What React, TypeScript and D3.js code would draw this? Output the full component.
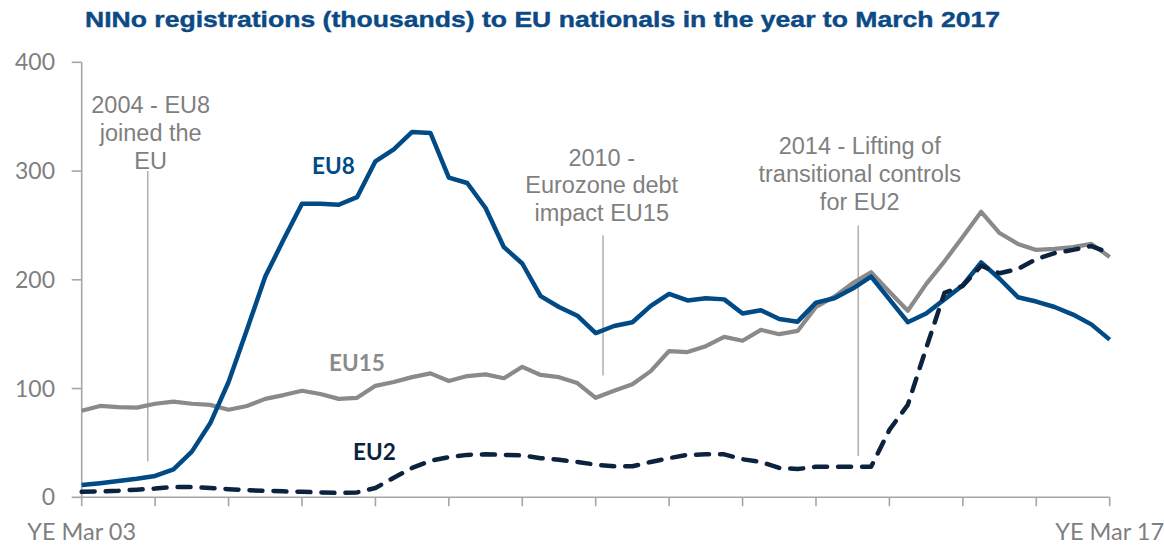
import React from "react";
import * as d3 from "d3";

const eu8: number[] = [
  11.3, 13, 15, 17, 19.6, 25.7, 42, 68, 106, 154, 203, 237, 270, 270, 269, 276,
  309, 320, 336, 335, 294, 289, 266, 230, 215, 185, 175, 167, 151, 157.5, 161,
  176, 187, 181, 183, 182, 169, 172, 164, 161.5, 179, 183, 192, 203, 182, 161,
  169, 182, 195, 216, 201, 184, 180, 175, 168, 159, 145,
];
const eu15: number[] = [
  79.5, 84, 83, 82.5, 86, 88, 86, 85, 80.5, 84, 90.5, 94, 98, 95, 90.5, 91.5,
  102.5, 106, 110.5, 114, 107, 111.5, 113, 109.5, 120, 112.5, 110.5, 105, 91.5,
  98, 104, 116, 134.5, 133.5, 139, 147.5, 144, 154, 150, 153, 175, 184.5, 197,
  207, 189, 171.5, 196, 217, 239.5, 262.5, 243, 233, 227.5, 228.5, 230, 233, 221,
];
const eu2: number[] = [
  5, 5.5, 6, 7, 8, 9.5, 9.5, 8.5, 7.5, 6.5, 6, 5.5, 5, 4.5, 4, 4.5, 8.5, 18, 27,
  33.5, 37, 39, 39.5, 39, 38.5, 36, 34.5, 32.5, 30, 28.5, 28.5, 32.5, 36, 39,
  39.5, 39.5, 35, 32.5, 27, 26, 28, 28, 28, 28, 62, 85, 137, 188, 194.5, 213,
  206, 210, 219, 224.5, 227.5, 231, 224.5,
];
const yTicks: number[] = [0, 100, 200, 300, 400];
const yearTicks: number[] = [0, 1, 2, 3, 4, 5, 6, 7, 8, 9, 10, 11, 12, 13, 14];
const xEndLabels: { year: number; label: string }[] = [
  { year: 0, label: "YE Mar 03" },
  { year: 14, label: "YE Mar 17" },
];
const annotations: { quarter: number; lines: string[]; top: number; bottom: number }[] = [
  { quarter: 3.6, lines: ["2004 - EU8", "joined the", "EU"], top: 300, bottom: 33 },
  { quarter: 28.4, lines: ["2010 -", "Eurozone debt", "impact EU15"], top: 241, bottom: 112 },
  { quarter: 42.3, lines: ["2014 - Lifting of", "transitional controls", "for EU2"], top: 250, bottom: 38 },
];

const W = 1164;
const H = 546;

export default function App() {
  const x = d3.scaleLinear().domain([0, 56]).range([81.7, 1109.7]);
  const y = d3.scaleLinear().domain([0, 400]).range([497.3, 62.3]);
  const line = d3
    .line<number>()
    .x((_, i) => x(i))
    .y((d) => y(d));

  const axisColor = "#a6a6a6";
  const labelColor = "#7f7f7f";
  const tickFont = "Lato, 'Open Sans', sans-serif";
  const annFont = "'Liberation Sans', Arial, sans-serif";

  return (
    <svg
      width={W}
      height={H}
      viewBox={`0 0 ${W} ${H}`}
      style={{ position: "absolute", left: 0, top: 0, background: "#fff" }}
    >
      <text
        x={85}
        y={27}
        fontFamily="'Liberation Sans', Arial, sans-serif"
        fontWeight="bold"
        fontSize={22}
        fill="#0b4a85"
        stroke="#0b4a85"
        strokeWidth={0.4}
        textLength={915}
        lengthAdjust="spacingAndGlyphs"
      >
        NINo registrations (thousands) to EU nationals in the year to March 2017
      </text>

      {/* y axis */}
      <line x1={x(0)} x2={x(0)} y1={y(400)} y2={y(0)} stroke={axisColor} strokeWidth={1.6} />
      {yTicks.map((t) => (
        <g key={"y" + t}>
          <line x1={x(0) - 10} x2={x(0)} y1={y(t)} y2={y(t)} stroke={axisColor} strokeWidth={1.6} />
          <text
            x={55}
            y={y(t) + 8}
            textAnchor="end"
            fontFamily={tickFont}
            fontSize={23}
            fill={labelColor}
          >
            {t}
          </text>
        </g>
      ))}

      {/* x axis */}
      <line x1={x(0)} x2={x(56)} y1={y(0)} y2={y(0)} stroke={axisColor} strokeWidth={1.6} />
      {yearTicks.map((t) => (
        <line
          key={"x" + t}
          x1={x(t * 4)}
          x2={x(t * 4)}
          y1={y(0)}
          y2={y(0) + 9}
          stroke={axisColor}
          strokeWidth={1.6}
        />
      ))}
      {xEndLabels.map((l) => (
        <text
          key={l.label}
          x={x(l.year * 4)}
          y={539.5}
          textAnchor="middle"
          fontFamily={tickFont}
          fontSize={23.5}
          fill={labelColor}
        >
          {l.label}
        </text>
      ))}

      {/* annotations */}
      {annotations.map((a, k) => {
        const cx = x(a.quarter);
        const firstBaseline = [113.3, 165.7, 154.3][k];
        const centers = [150.7, 601.7, 859.7];
        return (
          <g key={"a" + k}>
            {a.lines.map((ln, j) => (
              <text
                key={j}
                x={centers[k]}
                y={firstBaseline + j * 27.6}
                textAnchor="middle"
                fontFamily={annFont}
                fontSize={23.5}
                fill={labelColor}
              >
                {ln}
              </text>
            ))}
            <line
              x1={cx}
              x2={cx}
              y1={y(a.top)}
              y2={y(a.bottom)}
              stroke="#b0b0b0"
              strokeWidth={1.5}
            />
          </g>
        );
      })}

      {/* series */}
      <path d={line(eu15) || ""} fill="none" stroke="#8a8a8a" strokeWidth={4.2} strokeLinejoin="round" />
      <path d={line(eu8) || ""} fill="none" stroke="#004a86" strokeWidth={4.5} strokeLinejoin="round" />
      <path
        d={line(eu2) || ""}
        fill="none"
        stroke="#0c2340"
        strokeWidth={4.5}
        strokeDasharray="13,11"
        strokeLinecap="round"
        strokeLinejoin="round"
      />

      {/* series labels */}
      <text x={312} y={174} fontFamily={tickFont} fontWeight="bold" fontSize={22.5} fill="#004a86">
        EU8
      </text>
      <text x={329} y={371} fontFamily={tickFont} fontWeight="bold" fontSize={22.5} fill="#8a8a8a">
        EU15
      </text>
      <text x={353} y={460} fontFamily={tickFont} fontWeight="bold" fontSize={22.5} fill="#0c2340">
        EU2
      </text>
    </svg>
  );
}
